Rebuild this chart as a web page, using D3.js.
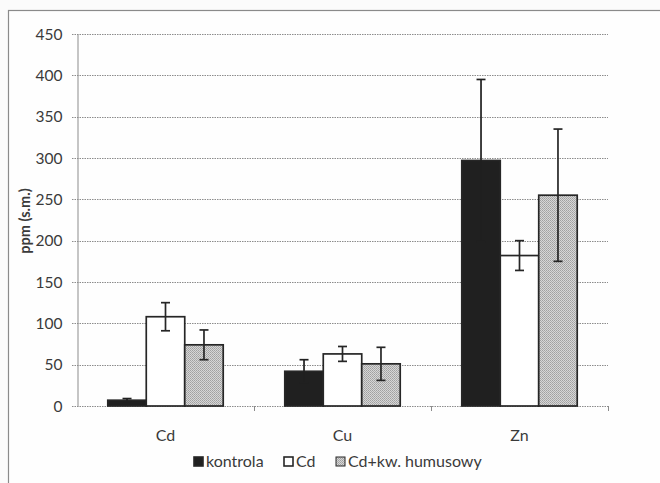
<!DOCTYPE html>
<html>
<head>
<meta charset="utf-8">
<script src="https://cdn.jsdelivr.net/npm/d3@7"></script>
<style>
  html, body { margin: 0; padding: 0; background: #fbfbfb; }
  svg { display: block; }
  text { font-family: Lato, "Open Sans", sans-serif; fill: #3a3a3a; }
</style>
</head>
<body>
<svg id="chart" width="660" height="483"></svg>
<script>
// Metal content by treatment
const categories = ["Cd", "Cu", "Zn"];
const seriesNames = ["kontrola", "Cd", "Cd+kw. humusowy"];
const kontrola = [7, 42, 297];
const cdSeries = [108, 63, 182];
const humus = [74, 51, 255];
const kontrolaErr = [2, 14, 98];
const cdErr = [17, 9, 18];
const humusErr = [18, 20, 80];
const yTicks = [0, 50, 100, 150, 200, 250, 300, 350, 400, 450];
const yLabel = "ppm (s.m.)";

const values = [kontrola, cdSeries, humus];
const errors = [kontrolaErr, cdErr, humusErr];

const svg = d3.select("#chart");
const W = 660, H = 483;
const m = { left: 77, right: 52, top: 34, bottom: 77 };

// patterned fill for the humic-acid series
const defs = svg.append("defs");
const pat = defs.append("pattern")
  .attr("id", "dots").attr("width", 2).attr("height", 2)
  .attr("patternUnits", "userSpaceOnUse");
pat.append("rect").attr("width", 2).attr("height", 2).attr("fill", "#d6d6d6");
pat.append("rect").attr("width", 1).attr("height", 1).attr("fill", "#a0a0a0");
pat.append("rect").attr("x", 1).attr("y", 1).attr("width", 1).attr("height", 1).attr("fill", "#acacac");

const fills = ["#202020", "#ffffff", "url(#dots)"];
const ink = "#262626";

// chart frame
svg.append("rect").attr("x", 8.5).attr("y", 10.5).attr("width", 670).attr("height", 490)
  .attr("fill", "#fefefe").attr("stroke", "#8a8a8a").attr("stroke-width", 1.2);

const x0 = d3.scaleBand().domain(categories).range([m.left, W - m.right]).paddingInner(0).paddingOuter(0);
const x1 = d3.scaleBand().domain(seriesNames).range([0, x0.bandwidth()]).paddingInner(0).paddingOuter(0.8);
const y = d3.scaleLinear().domain([0, 450]).range([H - m.bottom, m.top]);

// gridlines
svg.append("g").selectAll("line").data(yTicks).join("line")
  .attr("x1", m.left - 5).attr("x2", W - m.right)
  .attr("y1", d => Math.round(y(d)) + 0.5).attr("y2", d => Math.round(y(d)) + 0.5)
  .attr("stroke", "#8c8c8c").attr("stroke-width", 1).attr("stroke-dasharray", "1.5,1");

// y axis
const yAxis = svg.append("g").attr("transform", `translate(${m.left + 0.5},0)`)
  .call(d3.axisLeft(y).tickValues(yTicks).tickSize(0).tickPadding(15));
yAxis.select(".domain").attr("stroke", "#8c8c8c");
yAxis.selectAll("text").attr("font-size", 15.5).style("font-family", "Lato, sans-serif")
  .attr("fill", "#3a3a3a").attr("dy", "0.34em");

// category tick marks on the baseline
const boundaries = [x0.range()[0] + x0.bandwidth(), x0.range()[0] + 2 * x0.bandwidth(), x0.range()[1]];
svg.append("g").selectAll("line").data(boundaries).join("line")
  .attr("x1", d => Math.round(d) + 0.5).attr("x2", d => Math.round(d) + 0.5)
  .attr("y1", y(0)).attr("y2", y(0) + 5)
  .attr("stroke", "#8c8c8c");

// category labels
svg.append("g").selectAll("text").data(categories).join("text")
  .attr("x", d => x0(d) + x0.bandwidth() / 2).attr("y", y(0) + 35)
  .attr("text-anchor", "middle").attr("font-size", 16).text(d => d);

// bars
const groups = svg.append("g").selectAll("g").data(seriesNames).join("g");
groups.each(function(s, si) {
  const g = d3.select(this);
  g.selectAll("rect").data(categories).join("rect")
    .attr("x", c => x0(c) + x1(s))
    .attr("y", (c, ci) => y(values[si][ci]))
    .attr("width", x1.bandwidth())
    .attr("height", (c, ci) => y(0) - y(values[si][ci]))
    .attr("fill", fills[si])
    .attr("stroke", ink).attr("stroke-width", 1.7);
});

// error bars
groups.each(function(s, si) {
  const g = d3.select(this).append("g");
  categories.forEach((c, ci) => {
    const cx = x0(c) + x1(s) + x1.bandwidth() / 2;
    const v = values[si][ci], e = errors[si][ci];
    const col = si === 0 ? fills[0] : ink;
    g.append("line").attr("x1", cx).attr("x2", cx)
      .attr("y1", y(v + e)).attr("y2", y(Math.max(0, v - e)))
      .attr("stroke", col).attr("stroke-width", 1.7);
    [v + e, v - e].forEach(t => {
      if (t < 0) return;
      g.append("line").attr("x1", cx - 4.5).attr("x2", cx + 4.5)
        .attr("y1", y(t)).attr("y2", y(t))
        .attr("stroke", col).attr("stroke-width", 1.7);
    });
  });
});

// y axis title
svg.append("text")
  .attr("transform", `translate(30,${(y(0) + y(450)) / 2 + 1}) rotate(-90)`)
  .attr("text-anchor", "middle").attr("font-size", 14.5).attr("font-weight", "bold")
  .attr("fill", "#2a2a2a").text(yLabel);

// legend
const legendX = [194, 284, 336];
const legend = svg.append("g");
seriesNames.forEach((s, i) => {
  legend.append("rect").attr("x", legendX[i]).attr("y", 457).attr("width", 9).attr("height", 9)
    .attr("fill", fills[i]).attr("stroke", ink).attr("stroke-width", i === 2 ? 1 : 1.6);
  legend.append("text").attr("x", legendX[i] + 12).attr("y", 467)
    .attr("font-size", 16).text(s);
});
</script>
</body>
</html>
